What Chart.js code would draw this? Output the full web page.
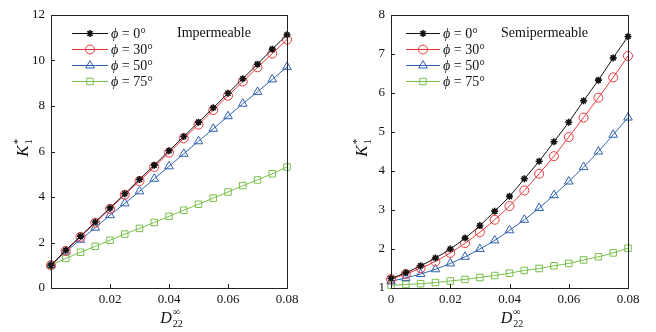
<!DOCTYPE html>
<html>
<head>
<meta charset="utf-8">
<script src="https://cdn.jsdelivr.net/npm/chart.js@4.4.0/dist/chart.umd.min.js"></script>
<style>
  html, body { margin: 0; padding: 0; background: #fff; }
  #wrap { position: relative; width: 656px; height: 332px; }
  canvas { position: absolute; top: 0; }
</style>
</head>
<body>
<div id="wrap">
  <canvas id="left" width="328" height="332" style="left:0"></canvas>
  <canvas id="right" width="328" height="332" style="left:328px"></canvas>
</div>
<script>
// D22 values along x
var dValues = [0, 0.005, 0.01, 0.015, 0.02, 0.025, 0.03, 0.035, 0.04, 0.045, 0.05, 0.055, 0.06, 0.065, 0.07, 0.075, 0.08];
var phiLabels = ['0°', '30°', '50°', '75°'];

// Impermeable
var impPhi0  = [1.0, 1.66, 2.28, 2.9, 3.52, 4.14, 4.77, 5.4, 6.03, 6.66, 7.29, 7.92, 8.56, 9.2, 9.84, 10.5, 11.13];
var impPhi30 = [1.0, 1.63, 2.25, 2.87, 3.48, 4.1, 4.7, 5.32, 5.95, 6.58, 7.18, 7.82, 8.45, 9.07, 9.7, 10.3, 10.92];
var impPhi50 = [1.0, 1.6, 2.12, 2.65, 3.2, 3.72, 4.25, 4.8, 5.35, 5.9, 6.45, 7.0, 7.55, 8.1, 8.62, 9.17, 9.72];
var impPhi75 = [1.0, 1.3, 1.57, 1.83, 2.1, 2.37, 2.62, 2.88, 3.15, 3.42, 3.68, 3.95, 4.22, 4.5, 4.75, 5.02, 5.32];

// Semipermeable
var semiPhi0  = [1.25, 1.39, 1.57, 1.77, 2.0, 2.28, 2.6, 2.97, 3.35, 3.8, 4.25, 4.75, 5.25, 5.8, 6.33, 6.9, 7.45];
var semiPhi30 = [1.23, 1.36, 1.51, 1.68, 1.9, 2.15, 2.43, 2.75, 3.1, 3.5, 3.93, 4.38, 4.87, 5.37, 5.88, 6.4, 6.95];
var semiPhi50 = [1.17, 1.26, 1.36, 1.48, 1.63, 1.8, 2.0, 2.22, 2.48, 2.75, 3.05, 3.38, 3.73, 4.1, 4.5, 4.93, 5.37];
var semiPhi75 = [1.07, 1.09, 1.11, 1.14, 1.18, 1.22, 1.27, 1.32, 1.38, 1.45, 1.5, 1.57, 1.63, 1.72, 1.8, 1.9, 2.02];

var serif = '"Liberation Serif", "DejaVu Serif", serif';

var seriesStyle = [
  { color: '#111111', pointStyle: 'star', radius: 3.5, bw: 1.6 },
  { color: '#e8383d', pointStyle: 'circle', radius: 4.5, bw: 1 },
  { color: '#2f62b0', pointStyle: 'triangle', radius: 5, bw: 1 },
  { color: '#78c04a', pointStyle: 'rect', radius: 4.6, bw: 1 }
];

function toPoints(arr) {
  return dValues.map(function (x, i) { return { x: x, y: arr[i] }; });
}

// frame, inward ticks, axis titles, legend and the label inside the plot
var decorPlugin = {
  id: 'decor',
  afterDraw: function (chart) {
    var o = chart.options.plugins.decor;
    var ctx = chart.ctx;
    var a = chart.chartArea;
    var xs = chart.scales.x, ys = chart.scales.y;
    ctx.save();
    ctx.strokeStyle = '#222';
    ctx.lineWidth = 1;
    ctx.strokeRect(Math.round(a.left) + 0.5, Math.round(a.top) + 0.5, Math.round(a.right - a.left), Math.round(a.bottom - a.top));
    ctx.beginPath();
    xs.ticks.forEach(function (t) {
      var px = Math.round(xs.getPixelForValue(t.value)) + 0.5;
      ctx.moveTo(px, a.bottom); ctx.lineTo(px, a.bottom - 4);
    });
    ys.ticks.forEach(function (t) {
      var py = Math.round(ys.getPixelForValue(t.value)) + 0.5;
      ctx.moveTo(a.left, py); ctx.lineTo(a.left + 4, py);
    });
    ctx.stroke();

    ctx.fillStyle = '#111';
    ctx.textBaseline = 'alphabetic';

    // label inside plot
    ctx.font = '14px ' + serif;
    ctx.textAlign = 'left';
    ctx.fillText(o.note, o.noteX, 37);

    // y title K1*
    ctx.save();
    ctx.translate(o.yTitleX, 148);
    ctx.rotate(-Math.PI / 2);
    ctx.font = 'italic 17px ' + serif;
    var kw = ctx.measureText('K').width;
    var sx = -(kw + 6) / 2;
    ctx.fillText('K', sx, 6);
    ctx.font = '10px ' + serif;
    ctx.fillText('1', sx + kw + 1, 10);
    ctx.font = '11px ' + serif;
    ctx.fillText('*', sx + kw + 1, -1);
    ctx.restore();

    // x title D22 inf
    var cx = (a.left + a.right) / 2 + 3;
    ctx.font = 'italic 16px ' + serif;
    var dw = ctx.measureText('D').width;
    var tx = cx - (dw + 12) / 2;
    ctx.fillText('D', tx, 323);
    ctx.font = '10px ' + serif;
    ctx.fillText('22', tx + dw + 1, 327);
    ctx.fillText('\u221E', tx + dw + 1, 315);

    // legend
    for (var i = 0; i < seriesStyle.length; i++) {
      var s = seriesStyle[i];
      var ry = 33 + i * 16;
      ctx.strokeStyle = s.color;
      ctx.lineWidth = 1;
      ctx.beginPath();
      ctx.moveTo(o.legX0, ry + 0.5); ctx.lineTo(o.legX1, ry + 0.5);
      ctx.stroke();
      ctx.fillStyle = 'rgba(0,0,0,0)';
      ctx.lineWidth = s.bw;
      Chart.helpers.drawPoint(ctx, { pointStyle: s.pointStyle, radius: s.radius, rotation: 0, borderWidth: s.bw }, (o.legX0 + o.legX1) / 2, ry + 0.5);
      ctx.fillStyle = '#111';
      ctx.font = 'italic 14px ' + serif;
      ctx.fillText('\u03D5', o.legTextX, ry + 5);
      var pw = ctx.measureText('\u03D5').width;
      ctx.font = '14px ' + serif;
      ctx.fillText(' = ' + phiLabels[i], o.legTextX + pw, ry + 5);
    }
    ctx.restore();
  }
};

function makeChart(id, series, cfg) {
  var datasets = series.map(function (arr, i) {
    var s = seriesStyle[i];
    return {
      data: toPoints(arr),
      borderColor: s.color,
      borderWidth: 1,
      pointStyle: s.pointStyle,
      pointRadius: s.radius,
      pointBorderWidth: s.bw,
      pointBorderColor: s.color,
      pointBackgroundColor: 'rgba(0,0,0,0)',
      showLine: true,
      fill: false,
      clip: false,
      cubicInterpolationMode: 'monotone'
    };
  });
  return new Chart(document.getElementById(id), {
    type: 'scatter',
    data: { datasets: datasets },
    options: {
      responsive: false,
      animation: false,
      devicePixelRatio: 1,
      layout: { padding: { left: 0, right: cfg.padRight, top: 15, bottom: 0 } },
      plugins: {
        legend: { display: false },
        tooltip: { enabled: false },
        decor: cfg.decor
      },
      scales: {
        x: {
          type: 'linear',
          min: 0, max: 0.08,
          grid: { display: false, drawTicks: false },
          border: { display: false },
          afterFit: function (s) { s.height = 44; },
          ticks: {
            stepSize: 0.02,
            padding: 4,
            color: '#111',
            maxRotation: 0,
            font: { family: serif, size: 13 },
            callback: function (v) {
              if (v === 0) return cfg.showZero ? '0' : '';
              return v.toFixed(2);
            }
          }
        },
        y: {
          min: cfg.yMin, max: cfg.yMax,
          grid: { display: false, drawTicks: false },
          border: { display: false },
          afterFit: function (s) { s.width = cfg.yWidth; },
          ticks: {
            stepSize: cfg.yStep,
            padding: 6,
            color: '#111',
            font: { family: serif, size: 13 }
          }
        }
      }
    },
    plugins: [decorPlugin]
  });
}

makeChart('left', [impPhi0, impPhi30, impPhi50, impPhi75], {
  yMin: 0, yMax: 12, yStep: 2, yWidth: 51, padRight: 41, showZero: false,
  decor: { note: 'Impermeable', noteX: 177, yTitleX: 22, legX0: 72, legX1: 108, legTextX: 111 }
});

makeChart('right', [semiPhi0, semiPhi30, semiPhi50, semiPhi75], {
  yMin: 1, yMax: 8, yStep: 1, yWidth: 63, padRight: 28, showZero: true,
  decor: { note: 'Semipermeable', noteX: 173, yTitleX: 33, legX0: 78, legX1: 112, legTextX: 115 }
});
</script>
</body>
</html>
